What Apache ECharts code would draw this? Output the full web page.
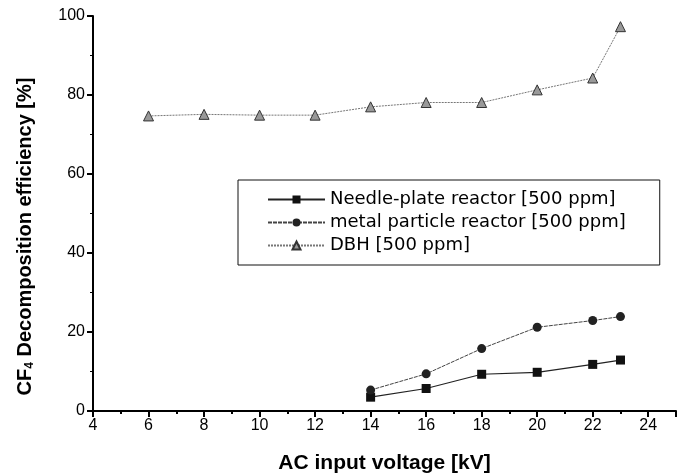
<html>
<head>
    <meta charset='utf-8' />
    <script src="https://cdn.jsdelivr.net/npm/echarts@6/dist/echarts.min.js"></script>
    <style>
        body { margin: 0; background: #fff; }
        #chart { width: 684px; height: 474px; }
    </style>
</head>
<body>
    <div id="chart"></div>
    <script type="text/javascript">
        var voltage = [6, 8, 10, 12, 14, 16, 18, 20, 22, 23];
        var needleX = [14, 16, 18, 20, 22, 23];
        var needle = [3.5, 5.7, 9.3, 9.8, 11.8, 12.9];
        var metalX = [14, 16, 18, 20, 22, 23];
        var metal = [5.3, 9.4, 15.8, 21.2, 22.9, 23.9];
        var dbh = [74.7, 75.1, 74.9, 74.9, 77.0, 78.1, 78.1, 81.3, 84.3, 97.3];
        var xTicks = [4, 6, 8, 10, 12, 14, 16, 18, 20, 22, 24];
        var yTicks = [0, 20, 40, 60, 80, 100];

        function pairs(xs, ys) {
            return xs.map(function (x, i) { return [x, ys[i]]; });
        }

        var font = '"Liberation Sans", Arial, sans-serif';
        var chart = echarts.init(document.getElementById('chart'));

        var option = {
            backgroundColor: '#fff',
            animation: false,
            textStyle: { fontFamily: font, color: '#000' },
            grid: { left: 93, right: 8, top: 16, bottom: 63, outerBoundsMode: 'none' },
            legend: {
                orient: 'vertical',
                left: 238,
                top: 180,
                width: 426,
                padding: [9, 34, 9, 29],
                itemGap: 2,
                itemWidth: 57,
                itemHeight: 10,
                borderColor: '#111',
                borderWidth: 1,
                textStyle: { fontFamily: '"DejaVu Sans", sans-serif', fontSize: 18, color: '#000', lineHeight: 21 },
                data: ['Needle-plate reactor [500 ppm]', 'metal particle reactor [500 ppm]', 'DBH [500 ppm]']
            },
            xAxis: {
                type: 'value',
                min: 4,
                max: 25,
                interval: 2,
                name: 'AC input voltage [kV]',
                nameLocation: 'middle',
                nameGap: 42,
                nameTextStyle: { fontFamily: font, fontSize: 21, fontWeight: 'bold', color: '#000' },
                axisLine: { onZero: false, lineStyle: { color: '#000', width: 2 } },
                axisTick: { show: true, length: 6, lineStyle: { color: '#000', width: 2 } },
                minorTick: { show: true, splitNumber: 2, length: 3, lineStyle: { color: '#000', width: 2 } },
                splitLine: { show: false },
                axisLabel: {
                    fontSize: 16, color: '#000', margin: 7,
                    formatter: function (v) { return xTicks.indexOf(v) >= 0 ? String(v) : ''; }
                }
            },
            yAxis: {
                type: 'value',
                min: 0,
                max: 100,
                interval: 20,
                name: '{b|CF}{s|4}{b| Decomposition efficiency [%]}',
                nameLocation: 'middle',
                nameGap: 57,
                nameTextStyle: {
                    padding: [0, 46, 0, 0],
                    rich: {
                        b: { fontFamily: font, fontSize: 20, fontWeight: 'bold', color: '#000' },
                        s: { fontFamily: font, fontSize: 12, fontWeight: 'bold', color: '#000', verticalAlign: 'bottom', padding: [9, 0, 0, 0] }
                    }
                },
                axisLine: { show: true, lineStyle: { color: '#000', width: 2 } },
                axisTick: { show: true, length: 6, lineStyle: { color: '#000', width: 2 } },
                minorTick: { show: true, splitNumber: 2, length: 3, lineStyle: { color: '#000', width: 1 } },
                splitLine: { show: false },
                axisLabel: {
                    fontSize: 16, color: '#000', margin: 8,
                    formatter: function (v) { return yTicks.indexOf(v) >= 0 ? String(v) : ''; }
                }
            },
            series: [
                {
                    name: 'Needle-plate reactor [500 ppm]',
                    type: 'line',
                    data: pairs(needleX, needle),
                    symbol: 'rect',
                    symbolSize: 9,
                    itemStyle: { color: '#111' },
                    lineStyle: { color: '#222', width: 1.2 }
                },
                {
                    name: 'metal particle reactor [500 ppm]',
                    type: 'line',
                    data: pairs(metalX, metal),
                    symbol: 'circle',
                    symbolSize: 9,
                    itemStyle: { color: '#222' },
                    lineStyle: { color: '#444', width: 1, type: [4, 1] }
                },
                {
                    name: 'DBH [500 ppm]',
                    type: 'line',
                    data: pairs(voltage, dbh),
                    symbol: 'triangle',
                    symbolSize: 10,
                    itemStyle: { color: '#999', borderColor: '#333', borderWidth: 1 },
                    lineStyle: { color: '#777', width: 1, type: [2, 1] }
                }
            ]
        };
        chart.setOption(option);
    </script>
</body>
</html>
